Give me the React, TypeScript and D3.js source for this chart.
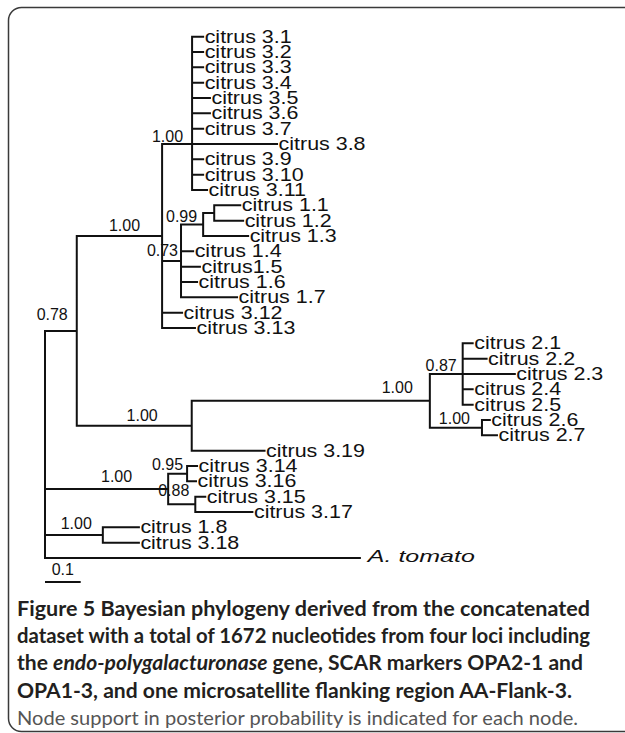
import React from "react";
import * as d3 from "d3";

// ---- Tree data (parent list with branch lengths in substitutions/site) ----
const NODE_IDS = [
  "root", "n078", "nA", "n3x",
  "citrus 3.1", "citrus 3.2", "citrus 3.3", "citrus 3.4", "citrus 3.5", "citrus 3.6",
  "citrus 3.7", "citrus 3.8", "citrus 3.9", "citrus 3.10", "citrus 3.11",
  "n073", "n099", "n1112", "citrus 1.1", "citrus 1.2", "citrus 1.3",
  "citrus 1.4", "citrus1.5", "citrus 1.6", "citrus 1.7",
  "citrus 3.12", "citrus 3.13",
  "n319", "n2x", "n2poly", "citrus 2.1", "citrus 2.2", "citrus 2.3", "citrus 2.4", "citrus 2.5",
  "n2627", "citrus 2.6", "citrus 2.7", "citrus 3.19",
  "n314", "n1416", "citrus 3.14", "citrus 3.16", "n1517", "citrus 3.15", "citrus 3.17",
  "n18", "citrus 1.8", "citrus 3.18", "A. tomato",
];
const PARENT_IDS = [
  "", "root", "n078", "nA",
  "n3x", "n3x", "n3x", "n3x", "n3x", "n3x",
  "n3x", "n3x", "n3x", "n3x", "n3x",
  "nA", "n073", "n099", "n1112", "n1112", "n099",
  "n073", "n073", "n073", "n073",
  "nA", "nA",
  "n078", "n319", "n2x", "n2poly", "n2poly", "n2poly", "n2poly", "n2poly",
  "n2x", "n2627", "n2627", "n319",
  "root", "n314", "n1416", "n1416", "n314", "n1517", "n1517",
  "root", "n18", "n18", "root",
];
const BRANCH_LENGTHS = [
  0, 0.089, 0.239, 0.084,
  0.031, 0.031, 0.031, 0.031, 0.05, 0.05,
  0.031, 0.238, 0.031, 0.031, 0.042,
  0.053, 0.062, 0.031, 0.073, 0.081, 0.126,
  0.034, 0.053, 0.045, 0.157,
  0.056, 0.092,
  0.322, 0.667, 0.092, 0.028, 0.067, 0.146, 0.028, 0.028,
  0.146, 0.022, 0.042, 0.204,
  0.345, 0.053, 0.028, 0.025, 0.076, 0.028, 0.16,
  0.162, 0.101, 0.101, 0.882,
];
// top-to-bottom order of the tips
const LEAF_ORDER = [
  "citrus 3.1", "citrus 3.2", "citrus 3.3", "citrus 3.4", "citrus 3.5", "citrus 3.6",
  "citrus 3.7", "citrus 3.8", "citrus 3.9", "citrus 3.10", "citrus 3.11",
  "citrus 1.1", "citrus 1.2", "citrus 1.3", "citrus 1.4", "citrus1.5", "citrus 1.6", "citrus 1.7",
  "citrus 3.12", "citrus 3.13",
  "citrus 2.1", "citrus 2.2", "citrus 2.3", "citrus 2.4", "citrus 2.5", "citrus 2.6", "citrus 2.7",
  "citrus 3.19", "citrus 3.14", "citrus 3.16", "citrus 3.15", "citrus 3.17",
  "citrus 1.8", "citrus 3.18", "A. tomato",
];
// posterior probabilities
const SUPPORT_NODES = ["n3x", "nA", "n099", "n073", "n078", "n319", "n2x", "n2poly", "n2627", "n314", "n1416", "n1517", "n18"];
const SUPPORT_VALUES = ["1.00", "1.00", "0.99", "0.73", "0.78", "1.00", "1.00", "0.87", "1.00", "1.00", "0.95", "0.88", "1.00"];
// polytomy drawn at the level of one of its tips
const NODE_ANCHOR: Record<string, string> = { n3x: "citrus 3.8" };
const SCALE_BAR = 0.1;

const CAPTION_BOLD = [
  [{ t: "Figure 5 Bayesian phylogeny derived from the concatenated" }],
  [{ t: "dataset with a total of 1672 nucleotides from four loci including" }],
  [{ t: "the " }, { t: "endo-polygalacturonase", i: true }, { t: " gene, SCAR markers OPA2-1 and" }],
  [{ t: "OPA1-3, and one microsatellite flanking region AA-Flank-3." }],
];
const CAPTION_PLAIN = "Node support in posterior probability is indicated for each node.";

// ---- layout (label nudges: [dx of right end from node x, dy above branch]) ----
const LABEL_NUDGE: Record<string, [number, number]> = {
  n3x: [-9, 2], nA: [-22, 5], n099: [-6, 2.5], n073: [-3, 4.5], n078: [-9, 11],
  n319: [-34, 5], n2x: [-17, 8], n2poly: [-6, 3], n2627: [-12, 4], n314: [-36, 7],
  n1416: [-4, 4], n1517: [-6, 8], n18: [-11, 6],
};
const CAPTION_WIDTHS = [573, 573, 566, 555];

type Row = { id: string; parent: string; length: number };

export default function App() {
  const rows: Row[] = NODE_IDS.map((id, i) => ({ id, parent: PARENT_IDS[i], length: BRANCH_LENGTHS[i] }));
  const root = d3
    .stratify<Row>()
    .id((d) => d.id)
    .parentId((d) => (d.parent === "" ? null : d.parent))(rows);

  const x = d3.scaleLinear().domain([0, SCALE_BAR]).range([45, 80.7]);
  const y = d3.scaleLinear().domain([0, LEAF_ORDER.length - 1]).range([36.7, 558]);

  const depth = new Map<string, number>();
  root.eachBefore((n) => {
    depth.set(n.id!, (n.parent ? depth.get(n.parent.id!)! : 0) + n.data.length);
  });
  const ypos = new Map<string, number>();
  root.eachAfter((n) => {
    if (!n.children) ypos.set(n.id!, y(LEAF_ORDER.indexOf(n.id!)));
    else if (NODE_ANCHOR[n.id!]) ypos.set(n.id!, ypos.get(NODE_ANCHOR[n.id!])!);
    else {
      const ys = n.children.map((c) => ypos.get(c.id!)!);
      ypos.set(n.id!, (d3.min(ys)! + d3.max(ys)!) / 2);
    }
  });

  let path = "";
  root.each((n) => {
    const nx = x(depth.get(n.id!)!);
    const ny = ypos.get(n.id!)!;
    if (n.parent) path += `M${x(depth.get(n.parent.id!)!)},${ny}H${nx}`;
    if (n.children) {
      const ys = n.children.map((c) => ypos.get(c.id!)!);
      path += `M${nx},${d3.min(ys)}V${d3.max(ys)}`;
    }
  });

  const leaves = root.leaves();
  const treeFont = "'Liberation Sans', Arial, Helvetica, sans-serif";
  const capFont = "Lato, 'Open Sans', sans-serif";

  return (
    <svg
      width={625}
      height={733}
      style={{ position: "absolute", left: 0, top: 0, background: "#fff" }}
    >
      <rect x={8.5} y={7.5} width={660} height={724} rx={13} fill="none" stroke="#3a3a3a" strokeWidth={1.5} />
      <path d={path} fill="none" stroke="#111" strokeWidth={2} strokeLinecap="square" />
      {leaves.map((l) => {
        const lx = x(depth.get(l.id!)!);
        const ly = ypos.get(l.id!)!;
        if (l.id === "A. tomato")
          return (
            <text key={l.id} x={lx + 8} y={ly + 4} fontFamily={treeFont} fontStyle="italic" fontSize={17}
              textLength={107} lengthAdjust="spacingAndGlyphs" fill="#111">
              {l.id}
            </text>
          );
        return (
          <text key={l.id} transform={`translate(${lx + 1.5},${ly + 6}) scale(1.16,1)`}
            fontFamily={treeFont} fontSize={18.5} fill="#111">
            {l.id}
          </text>
        );
      })}
      {SUPPORT_NODES.map((id, i) => {
        const [dx, dy] = LABEL_NUDGE[id];
        return (
          <text key={id} x={x(depth.get(id)!) + dx} y={ypos.get(id)! - dy} textAnchor="end"
            fontFamily={treeFont} fontSize={16} fill="#111">
            {SUPPORT_VALUES[i]}
          </text>
        );
      })}
      <line x1={x(0)} x2={x(SCALE_BAR)} y1={582} y2={582} stroke="#111" strokeWidth={2} />
      <text x={(x(0) + x(SCALE_BAR)) / 2} y={575} textAnchor="middle" fontFamily={treeFont} fontSize={16} fill="#111">
        {String(SCALE_BAR)}
      </text>
      {CAPTION_BOLD.map((parts, i) => (
        <text key={i} x={17} y={616 + i * 27.2} fontFamily={capFont} fontSize={20} fontWeight="bold"
          fill="#231f20" textLength={CAPTION_WIDTHS[i]} lengthAdjust="spacingAndGlyphs">
          {parts.map((p: any, j) => (
            <tspan key={j} fontStyle={p.i ? "italic" : "normal"}>{p.t}</tspan>
          ))}
        </text>
      ))}
      <text x={17} y={616 + 4 * 27.2} fontFamily={capFont} fontSize={20} fill="#555"
        textLength={561} lengthAdjust="spacingAndGlyphs">
        {CAPTION_PLAIN}
      </text>
    </svg>
  );
}
